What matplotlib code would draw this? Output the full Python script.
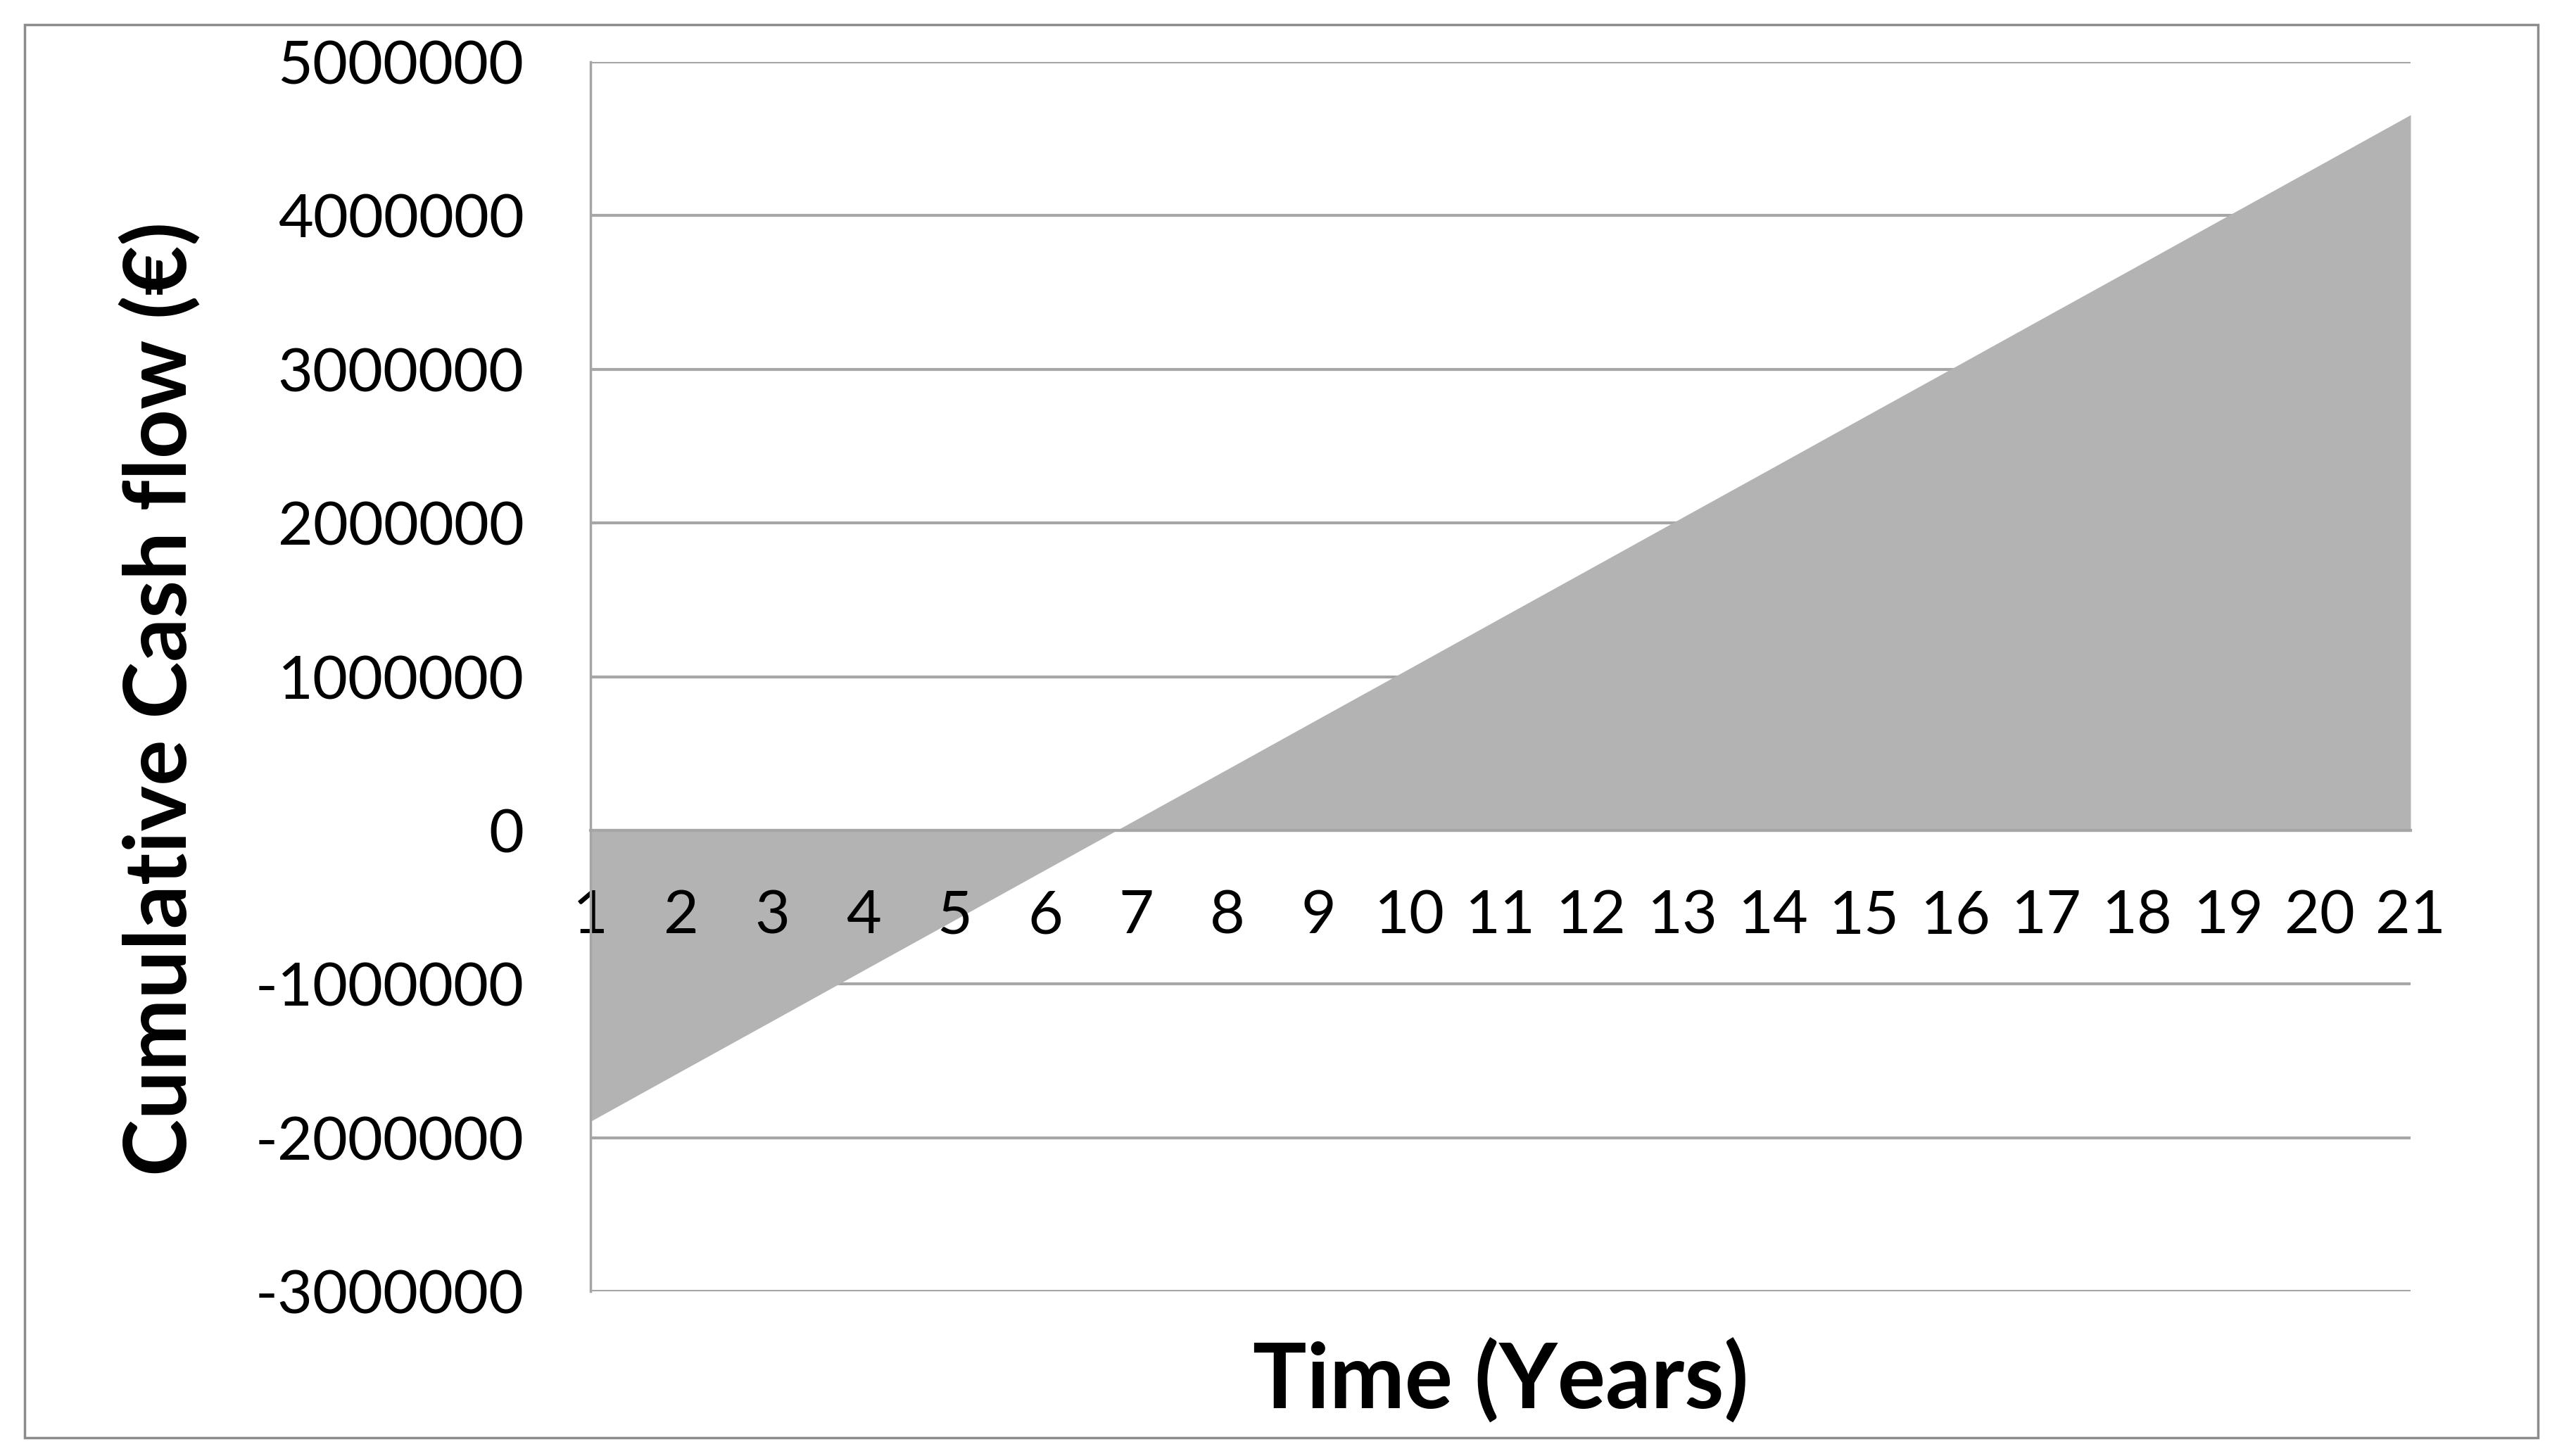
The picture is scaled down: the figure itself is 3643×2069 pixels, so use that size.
import matplotlib
matplotlib.use("Agg")
import matplotlib.pyplot as plt
from matplotlib.patches import Rectangle

# cumulative cash flow per year
years = list(range(1, 22))
cash_flow = [-1894000, -1566000, -1239000, -911000, -584000, -256000, 71000,
             398000, 726000, 1053000, 1381000, 1708000, 2036000, 2363000,
             2691000, 3018000, 3346000, 3673000, 4001000, 4328000, 4656000]
y_ticks = [-3000000, -2000000, -1000000, 0, 1000000, 2000000, 3000000, 4000000, 5000000]

W, H = 3643, 2069
fig = plt.figure(figsize=(W / 100, H / 100), dpi=100)
plt.rcParams['font.family'] = ['Lato', 'DejaVu Sans']

ax = fig.add_axes([839 / W, 1 - 1835 / H, (3425 - 839) / W, (1835 - 88) / H])

# gridlines under the area, axis (and its labels) above it
for v in y_ticks:
    ax.axhline(v, color='#a6a6a6', linewidth=3, zorder=1)
ax.fill_between(years, cash_flow, 0, color='#b3b3b3', linewidth=0, zorder=2)
ax.set_axisbelow(False)

ax.set_xlim(1, 21)
ax.set_ylim(-3000000, 5000000)
ax.set_xticks(years)
ax.set_xticklabels([str(y) for y in years])
ax.set_yticks(y_ticks)
ax.set_yticklabels([str(v) for v in y_ticks])

for side in ['top', 'right']:
    ax.spines[side].set_visible(False)
ax.spines['bottom'].set_position(('data', 0))
ax.spines['bottom'].set_color('#a6a6a6')
ax.spines['bottom'].set_linewidth(3)
ax.spines['bottom'].set_zorder(3)
ax.spines['left'].set_color('#a6a6a6')
ax.spines['left'].set_linewidth(2.5)
ax.spines['left'].set_zorder(3)

ax.tick_params(axis='x', length=0, pad=60, labelsize=62, labelcolor='black')
ax.tick_params(axis='y', length=0, pad=68, labelsize=62, labelcolor='black')

fig.text(2132 / W, 1 - 1963 / H, "Time (Years)", ha='center', va='center',
         fontsize=92, fontweight='bold')
fig.text(228 / W, 1 - 993 / H, "Cumulative Cash flow (€)", ha='center', va='center',
         rotation=90, fontsize=88, fontweight='bold')

fig.patches.append(Rectangle((35 / W, 1 - 2043 / H), (3606 - 35) / W, (2043 - 35) / H,
                             transform=fig.transFigure, fill=False,
                             edgecolor='#8c8c8c', linewidth=2.5))

fig.savefig("out.png", dpi=100)
